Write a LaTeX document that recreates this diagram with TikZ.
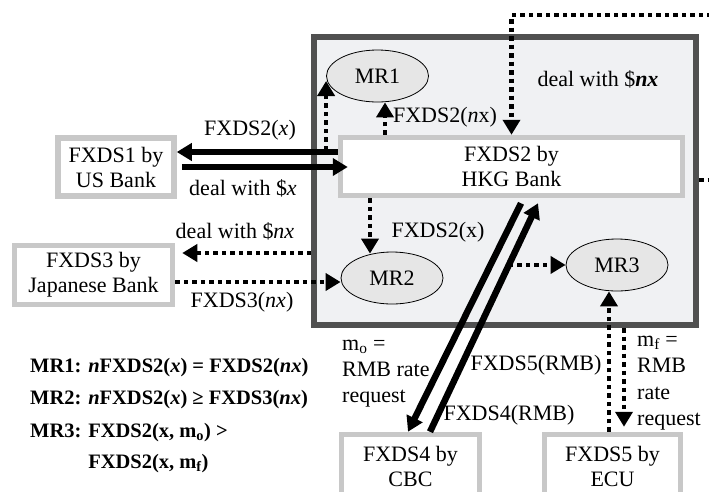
\documentclass[tikz,border=0pt]{standalone}
\usepackage{fontspec}
\setmainfont{Liberation Serif}
\usetikzlibrary{arrows.meta,calc,shapes.geometric}

\definecolor{panelfill}{HTML}{F0F1F3}
\definecolor{paneledge}{HTML}{505050}
\definecolor{boxedge}{HTML}{C8C8C8}
\definecolor{rulefill}{HTML}{E6E6E6}

\begin{document}
\begin{tikzpicture}[x=1pt,y=-1pt,
  font=\fontsize{22}{25}\selectfont,
  bank/.style={draw=boxedge, line width=5.5pt, fill=white, align=center, inner sep=0pt},
  rule/.style={ellipse, draw=black, line width=0.8pt, fill=rulefill,
               minimum width=102pt, minimum height=52pt, inner sep=0pt},
  flow/.style={line width=6.5pt, -{Triangle[width=17pt,length=15pt]}},
  query/.style={line width=4.5pt, dash pattern=on 4.5pt off 4pt,
                -{Triangle[width=17pt,length=15pt]}},
  lbl/.style={inner sep=0pt},
]
\useasboundingbox (0,0) rectangle (709,491);
\clip (0,0) rectangle (709,491);

% HKG bank panel
\node[draw=paneledge, line width=6pt, fill=panelfill, minimum width=382pt,
      minimum height=288pt, inner sep=0pt] (outer) at (505,181) {};

% banks
\node[bank, minimum width=116pt, minimum height=58pt] (us) at (116,167) {FXDS1 by\\US Bank};
\node[bank, minimum width=342pt, minimum height=58pt] (hkg) at (511.5,166.5) {FXDS2 by\\HKG Bank};
\node[bank, minimum width=158pt, minimum height=59pt] (jp) at (93.5,275) {FXDS3 by\\Japanese Bank};
\node[bank, minimum width=138pt, minimum height=64pt] (cbc) at (410.5,466.5) {FXDS4 by\\CBC};
\node[bank, minimum width=136pt, minimum height=64pt] (ecu) at (612.5,466.5) {FXDS5 by\\ECU};

% metamorphic relations
\node[rule] (mr1) at (377.5,76) {MR1};
\node[rule] (mr2) at (392,278) {MR2};
\node[rule] (mr3) at (617,265) {MR3};

% US bank exchange
\draw[flow] (hkg.west |- 0,152) -- (us.east |- 0,152);
\draw[flow, shorten <=5pt, shorten >=-10pt] (us.east) -- (us.east -| hkg.west);
\draw[query] (mr1.west |- 0,150) -- ([yshift=-5pt]mr1.west);

% follow-up deal of $nx
\coordinate (m1s) at ([xshift=7.5pt]mr1.south);
\draw[query] (m1s |- hkg.north) -- (m1s);
\draw[query] (outer.east |- 0,180) -- ++(30,0) |- (hkg.north |- 0,15) -- (hkg.north);

% Japanese bank exchange
\coordinate (m2n) at ([xshift=-22pt,yshift=-2pt]mr2.north);
\draw[query] (m2n |- hkg.south) -- (m2n);
\draw[query, shorten >=7pt] (outer.west |- 0,253) -- (jp.east |- 0,253);
\coordinate (m2w) at ([yshift=-4pt]mr2.west);
\draw[query] (jp.east |- m2w) -- (m2w);

% RMB rate requests
\coordinate (rq0) at ([xshift=9.5pt,yshift=-5pt]hkg.south);
\coordinate (rq1) at ([xshift=-2.5pt]cbc.north);
\coordinate (rs0) at ([xshift=19.5pt]cbc.north);
\coordinate (rs1) at ([xshift=26.5pt,yshift=-5pt]hkg.south);
\draw[flow] (rq0) -- (rq1);
\draw[flow] (rs0) -- (rs1);
\coordinate (tap) at ($(rs0)!0.73!(rs1)$);
\draw[query] (tap) -- (tap -| mr3.west);
\coordinate (m3s) at ([xshift=-8pt]mr3.south);
\draw[query] (m3s |- ecu.north) -- (m3s);
\draw[query, shorten >=5pt] (outer.south -| 624,0) -- (ecu.north -| 624,0);

% connector labels
\node[lbl] (l1) at (250,130) {FXDS2(\textit{x})};
\node[lbl] (l2) at (243,188) {deal with \$\textit{x}};
\node[lbl] (l3) at (445,117) {FXDS2(\textit{n}x)};
\node[lbl] (l4) at (598,79) {deal with \$\textbf{\textit{nx}}};
\node[lbl] (l5) at (438,232) {FXDS2(x)};
\node[lbl] (l6) at (235,231) {deal with \$\textit{nx}};
\node[lbl] (l7) at (242,302) {FXDS3(\textit{nx})};
\node[lbl, anchor=west, align=left, font=\fontsize{22}{26}\selectfont] (l8) at (342,374)
  {m\textsubscript{o} =\\RMB rate\\request};
\node[lbl] (l9) at (536,365) {FXDS5(RMB)};
\node[lbl] (l10) at (509,415) {FXDS4(RMB)};
\node[lbl, anchor=west, align=left, font=\fontsize{22}{26.5}\selectfont] (l11) at (637,383)
  {m\textsubscript{f} =\\RMB\\rate\\request};

% relation definitions
\node[lbl, anchor=north west, font=\fontsize{20.5}{25}\selectfont\bfseries] (legend) at (30,354.5)
  {\begin{tabular}{@{}l@{ }l@{}}
   MR1: & \textit{n}FXDS2(\textit{x}) = FXDS2(\textit{nx})\\[7.5pt]
   MR2: & \textit{n}FXDS2(\textit{x}) ≥ FXDS3(\textit{nx})\\[8pt]
   MR3: & FXDS2(x, m\textsubscript{o}) >\\[6pt]
        & FXDS2(x, m\textsubscript{f})
   \end{tabular}};
\end{tikzpicture}
\end{document}
